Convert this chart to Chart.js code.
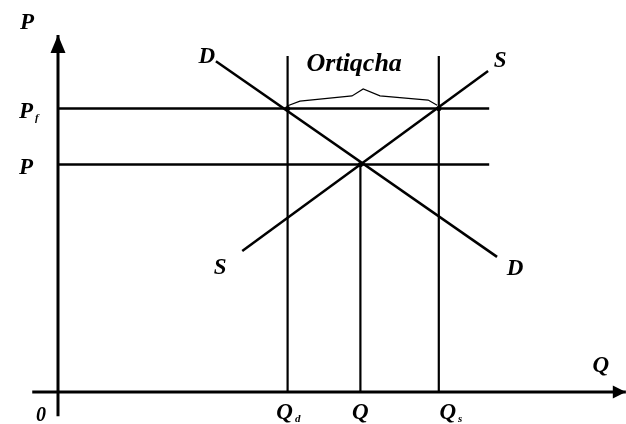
<!DOCTYPE html>
<html>
<head>
<meta charset="utf-8">
<script src="https://cdn.jsdelivr.net/npm/chart.js@4/dist/chart.umd.min.js"></script>
<style>
  body { margin: 0; background: #fff; }
  #wrap { width: 626px; height: 424px; }
</style>
</head>
<body>
<div id="wrap"><canvas id="market"></canvas></div>
<script>
// quantities on the Q axis: Qd, Q, Qs
const qValues = [41, 54, 68];
const qLabels = ["Q_d", "Q", "Q_s"];
// prices on the P axis: Pf, P
const pValues = [81, 65];
const pLabels = ["P_f", "P"];
// demand (D) and supply (S) lines, as Q / P pairs
const demandQ = [28.2, 78.4];
const demandP = [94.5, 38.6];
const supplyQ = [32.9, 76.8];
const supplyP = [40.3, 91.7];
// brace over the surplus between Qd and Qs
const braceQ = [40.9, 43.2, 52.5, 54.5, 57.5, 66.1, 67.7];
const braceP = [81.7, 83.1, 84.6, 86.6, 84.6, 83.4, 81.9];
const surplusLabel = "Ortiqcha";
const guideTop = 96;    // Qd and Qs lines go up to here
const guideRight = 77;  // Pf and P lines end here
const axisQ = [-4.6, 101.4];
const axisP = [-6.9, 102];

const INK = "#000";
const FONT = '"Liberation Serif", "DejaVu Serif", serif';

function pts(xs, ys) {
  return xs.map((x, i) => ({ x: x, y: ys[i] }));
}

function line(data, width) {
  return {
    data: data,
    showLine: true,
    borderColor: INK,
    borderWidth: width,
    pointRadius: 0,
    clip: false,
  };
}

const datasets = [
  line(pts(axisQ, [0, 0]), 3),
  line(pts([0, 0], axisP), 3),
  line(pts(demandQ, demandP), 2.5),
  line(pts(supplyQ, supplyP), 2.5),
  line(pts([0, guideRight], [pValues[0], pValues[0]]), 2.4),
  line(pts([0, guideRight], [pValues[1], pValues[1]]), 2.4),
  line(pts([qValues[0], qValues[0]], [0, guideTop]), 2.2),
  line(pts([qValues[1], qValues[1]], [0, pValues[1]]), 2.2),
  line(pts([qValues[2], qValues[2]], [0, guideTop]), 2.2),
  line(pts(braceQ, braceP), 1.2),
  {
    data: [
      { x: qValues[0], y: pValues[0] },
      { x: qValues[2], y: pValues[0] },
      { x: qValues[1], y: pValues[1] },
    ],
    showLine: false,
    pointRadius: 2.6,
    pointBackgroundColor: INK,
    pointBorderWidth: 0,
    clip: false,
  },
];

function label(ctx, text, x, y, size) {
  const parts = text.split("_");
  ctx.font = "italic bold " + size + "px " + FONT;
  ctx.textAlign = "center";
  ctx.textBaseline = "alphabetic";
  const w = ctx.measureText(parts[0]).width;
  const base = y + size * 0.34;
  ctx.fillText(parts[0], x, base);
  if (parts[1]) {
    ctx.font = "italic bold 11px " + FONT;
    ctx.textAlign = "left";
    ctx.fillText(parts[1], x + w / 2 + 2, base + 3);
  }
}

const annotate = {
  id: "annotate",
  afterDatasetsDraw(chart) {
    const ctx = chart.ctx;
    const xs = chart.scales.x;
    const ys = chart.scales.y;
    const X = (v) => xs.getPixelForValue(v);
    const Y = (v) => ys.getPixelForValue(v);
    ctx.save();
    ctx.fillStyle = INK;

    // arrow heads
    const tipX = X(axisQ[1]), y0 = Y(0);
    ctx.beginPath();
    ctx.moveTo(tipX, y0);
    ctx.lineTo(tipX - 13, y0 - 6.5);
    ctx.lineTo(tipX - 13, y0 + 6.5);
    ctx.closePath();
    ctx.fill();
    const tipY = Y(axisP[1]), x0 = X(0);
    ctx.beginPath();
    ctx.moveTo(x0, tipY);
    ctx.lineTo(x0 - 7.5, tipY + 18);
    ctx.lineTo(x0 + 7.5, tipY + 18);
    ctx.closePath();
    ctx.fill();

    // axis titles and origin
    label(ctx, "P", x0 - 31, tipY - 14, 23);
    label(ctx, "Q", tipX - 25, y0 - 28, 23);
    label(ctx, "0", x0 - 17, y0 + 22, 20);

    // tick labels
    const qShift = [-3, 0, 9];
    qValues.forEach((q, i) => label(ctx, qLabels[i], X(q) + qShift[i], y0 + 19, 23));
    pValues.forEach((p, i) => label(ctx, pLabels[i], x0 - 32, Y(p) + 2, 23));

    // curve labels
    label(ctx, "D", X(demandQ[0]) - 9, Y(demandP[0]) - 6, 23);
    label(ctx, "D", X(demandQ[1]) + 18, Y(demandP[1]) + 10, 23);
    label(ctx, "S", X(supplyQ[0]) - 22, Y(supplyP[0]) + 15, 23);
    label(ctx, "S", X(supplyQ[1]) + 12, Y(supplyP[1]) - 12, 23);

    // surplus
    label(ctx, surplusLabel, (X(qValues[0]) + X(qValues[2])) / 2 - 9, Y(guideTop) + 6, 26);
    ctx.restore();
  },
};

new Chart(document.getElementById("market"), {
  type: "scatter",
  data: { datasets: datasets },
  options: {
    responsive: true,
    maintainAspectRatio: false,
    animation: false,
    layout: { padding: { left: 58, right: 8, top: 42, bottom: 32 } },
    plugins: { legend: { display: false }, tooltip: { enabled: false } },
    scales: {
      x: { type: "linear", min: 0, max: 100, display: false },
      y: { type: "linear", min: 0, max: 100, display: false },
    },
  },
  plugins: [annotate],
});
</script>
</body>
</html>
